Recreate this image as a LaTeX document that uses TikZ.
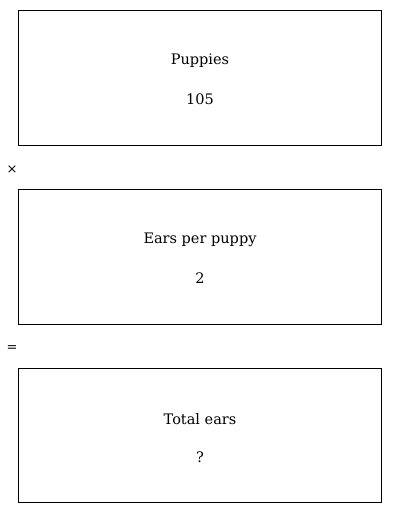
\documentclass[tikz,border=0pt]{standalone}
\usepackage{fontspec}
\setmainfont{DejaVu Serif}
\begin{document}
\begin{tikzpicture}[x=1pt,y=-1pt,
  qbox/.style={draw,line width=0.8pt},
  lbl/.style={font=\fontsize{14.5}{17}\selectfont,inner sep=0pt},
  op/.style={font=\fontsize{13}{16}\selectfont,inner sep=0pt}]
\useasboundingbox (0,0) rectangle (400,514);
\node[qbox,minimum width=363pt,minimum height=135pt,anchor=north west] (b1) at (18,10) {};
\node[qbox,minimum width=363pt,minimum height=135pt,anchor=north west] (b2) at (18,189) {};
\node[qbox,minimum width=363pt,minimum height=134pt,anchor=north west] (b3) at (18,368) {};
\node[lbl] (t1) at (200,61) {Puppies};
\node[lbl] (v1) at (200,99.5) {105};
\node[lbl] (t2) at (200,240) {Ears per puppy};
\node[lbl] (v2) at (200,278.5) {2};
\node[lbl] (t3) at (200,419) {Total ears};
\node[lbl] (v3) at (200,457) {?};
\node[op] (m) at (12,170) {×};
\node[op] (e) at (12,349) {=};
\end{tikzpicture}
\end{document}
